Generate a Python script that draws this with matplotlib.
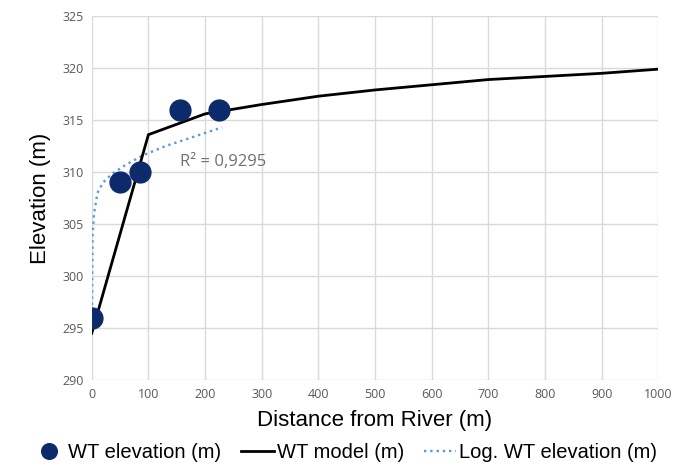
import matplotlib
matplotlib.use("Agg")
import matplotlib.pyplot as plt

plt.rcParams['font.family'] = ['Liberation Sans', 'DejaVu Sans']

# Observed water table points
obs_x = [0, 50, 85, 155, 225]
obs_y = [296, 309, 310, 316, 316]

# WT model line
model_x = [0, 100, 200, 300, 400, 500, 600, 700, 800, 900, 1000]
model_y = [294.5, 313.6, 315.6, 316.5, 317.3, 317.9, 318.4, 318.9, 319.2, 319.5, 319.9]

# Log trendline
log_x = [0.3, 0.8, 1.5, 4, 10, 20, 35, 60, 90, 130, 180, 230]
log_y = [296, 300, 304, 306, 308, 309, 309.8, 310.7, 311.6, 312.5, 313.4, 314.3]

x_ticks = list(range(0, 1001, 100))
y_ticks = list(range(290, 326, 5))

fig = plt.figure(figsize=(6.9, 4.75), dpi=100)
ax = fig.add_axes([0.133, 0.2, 0.821, 0.766])

ax.plot(obs_x, obs_y, 'o', color='#0d2a6b', markersize=15, label='WT elevation (m)', zorder=4)
ax.plot(model_x, model_y, '-', color='black', lw=2.0, label='WT model (m)', zorder=3)
ax.plot(log_x, log_y, ':', color='#5b9bd5', lw=1.7, label='Log. WT elevation (m)', zorder=2)

ax.text(155, 310.6, 'R² = 0,9295', color='#707070', fontsize=12, family=['Open Sans', 'DejaVu Sans'])

ax.set_xlim(0, 1000)
ax.set_ylim(290, 325)
ax.set_xticks(x_ticks)
ax.set_yticks(y_ticks)
ax.grid(True, color='#d9d9d9', lw=1)
ax.set_axisbelow(True)
for s in ax.spines.values():
    s.set_visible(False)
ax.tick_params(length=0, labelsize=9, labelcolor='#595959', pad=6)
for lab in ax.get_xticklabels() + ax.get_yticklabels():
    lab.set_family(['Open Sans', 'DejaVu Sans'])

ax.set_xlabel('Distance from River (m)', fontsize=16, labelpad=6)
ax.set_ylabel('Elevation (m)', fontsize=16, labelpad=8)

handles, labels = ax.get_legend_handles_labels()
leg = fig.legend(handles, labels, loc='lower center', bbox_to_anchor=(0.5, -0.01), ncol=3,
                 frameon=False, fontsize=14.5, handlelength=1.6, handletextpad=0.15,
                 columnspacing=1.0, markerscale=0.75)

fig.savefig('out.png', dpi=100)
